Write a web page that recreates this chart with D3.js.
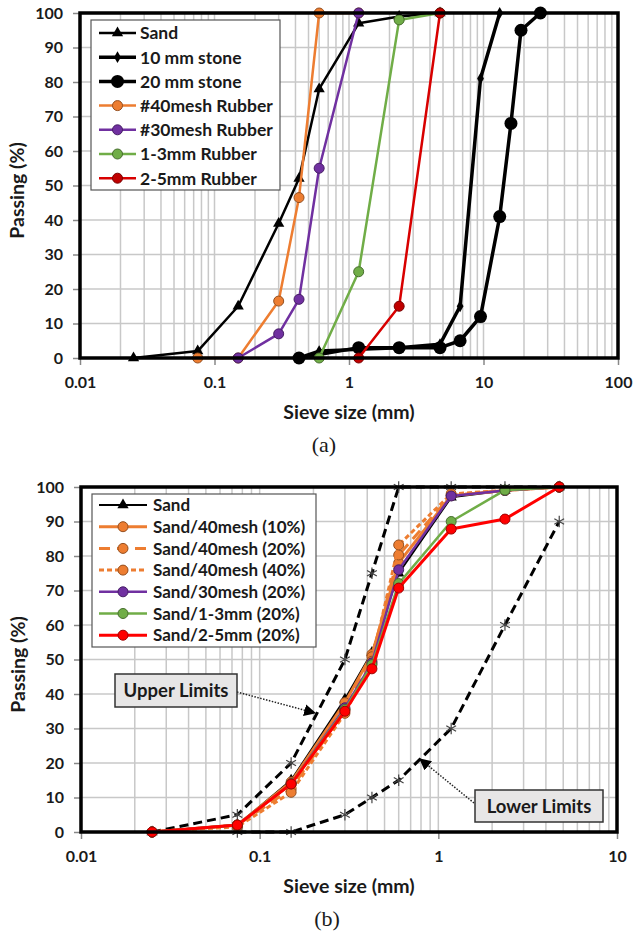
<!DOCTYPE html>
<html>
<head>
<meta charset="utf-8">
<script src="https://cdn.jsdelivr.net/npm/d3@7"></script>
<style>
  body { margin: 0; background: #fff; }
  svg { display: block; }
  text { font-family: Lato, "Open Sans", sans-serif; font-weight: 700; fill: #1a1a1a; }
</style>
</head>
<body>
<svg id="fig" width="635" height="939"></svg>
<script>
// ---------- Panel (a): gradation of sand, stone and rubber ----------
const sandSizesA   = [0.025, 0.075, 0.15, 0.3, 0.425, 0.6, 1.18, 2.36, 4.75];
const sandPassA    = [0, 2, 15, 39, 52, 78, 97, 99, 100];
const stone10Sizes = [0.425, 0.6, 1.18, 2.36, 4.75, 6.7, 9.5, 13.2];
const stone10Pass  = [0, 2, 2.5, 3, 4, 15, 81, 100];
const stone20Sizes = [0.425, 1.18, 2.36, 4.75, 6.7, 9.5, 13.2, 16, 19, 26.5];
const stone20Pass  = [0, 3, 3, 3, 5, 12, 41, 68, 95, 100];
const mesh40Sizes  = [0.075, 0.15, 0.3, 0.425, 0.6, 1.18];
const mesh40Pass   = [0, 0, 16.5, 46.5, 100, 100];
const mesh30Sizes  = [0.15, 0.3, 0.425, 0.6, 1.18];
const mesh30Pass   = [0, 7, 17, 55, 100];
const r13Sizes     = [0.6, 1.18, 2.36, 4.75];
const r13Pass      = [0, 25, 98, 100];
const r25Sizes     = [1.18, 2.36, 4.75];
const r25Pass      = [0, 15, 100];

// ---------- Panel (b): sand / rubber blends with grading limits ----------
const sieveB       = [0.025, 0.075, 0.15, 0.3, 0.425, 0.6, 1.18, 2.36, 4.75];
const sandPassB    = [0, 2, 15, 38.5, 52, 75, 97, 99, 100];
const m40p10Pass   = [0, 2, 14.5, 37.5, 51.5, 78, 97.5, 99, 100];
const m40p20Pass   = [0, 2, 12.5, 35.5, 50.8, 80.3, 97.5, 99, 100];
const m40p40Pass   = [0, 1.5, 11.5, 34.4, 49.5, 83.2, 98, 99, 100];
const m30p20Pass   = [0, 2, 14, 36, 49, 76, 97.4, 99, 100];
const r13p20Pass   = [0, 2, 14, 35.5, 48.5, 72, 90, 99.1, 100];
const r25p20Pass   = [0, 2, 13.9, 35, 47.3, 70.7, 87.8, 90.7, 100];
const upperSizes   = [0.025, 0.075, 0.15, 0.3, 0.425, 0.6, 1.18, 2.36, 4.75];
const upperPass    = [0, 5, 20, 50, 75, 100, 100, 100, 100];
const lowerSizes   = [0.075, 0.15, 0.3, 0.425, 0.6, 1.18, 2.36, 4.75];
const lowerPass    = [0, 0, 5, 10, 15, 30, 60, 90];

// ---------- Axis ticks and titles ----------
const xTicksA = [0.01, 0.1, 1, 10, 100];
const xTicksB = [0.01, 0.1, 1, 10];
const yTicks  = [0, 10, 20, 30, 40, 50, 60, 70, 80, 90, 100];
const xTitle  = "Sieve size (mm)";
const yTitle  = "Passing (%)";

const ORANGE = "#ED7D31", PURPLE = "#7030A0", GREEN = "#70AD47";

const zip = (s, p) => s.map((v, i) => ({ size: v, pass: p[i] }));

const seriesA = [
  { name: "Sand",           pts: zip(sandSizesA, sandPassA),     color: "#000", width: 2.5, marker: "triangle" },
  { name: "10 mm stone",    pts: zip(stone10Sizes, stone10Pass), color: "#000", width: 3.5, marker: "diamond" },
  { name: "20 mm stone",    pts: zip(stone20Sizes, stone20Pass), color: "#000", width: 3.5, marker: "bigcircle" },
  { name: "#40mesh Rubber", pts: zip(mesh40Sizes, mesh40Pass),   color: ORANGE, width: 2.5, marker: "circle" },
  { name: "#30mesh Rubber", pts: zip(mesh30Sizes, mesh30Pass),   color: PURPLE, width: 2.5, marker: "circle" },
  { name: "1-3mm Rubber",   pts: zip(r13Sizes, r13Pass),         color: GREEN,  width: 2.5, marker: "circle" },
  { name: "2-5mm Rubber",   pts: zip(r25Sizes, r25Pass),         color: "#D80000", fill: "#C00000", width: 2.5, marker: "circle" }
];

const limitsB = [
  { pts: zip(upperSizes, upperPass) },
  { pts: zip(lowerSizes, lowerPass) }
];

const seriesB = [
  { name: "Sand",                pts: zip(sieveB, sandPassB),  color: "#000", width: 2,   marker: "triangle" },
  { name: "Sand/40mesh (10%)",   pts: zip(sieveB, m40p10Pass), color: ORANGE, width: 3,   marker: "circle" },
  { name: "Sand/40mesh (20%)",   pts: zip(sieveB, m40p20Pass), color: ORANGE, width: 3,   marker: "circle", dash: "11,7" },
  { name: "Sand/40mesh (40%)",   pts: zip(sieveB, m40p40Pass), color: ORANGE, width: 3,   marker: "circle", dash: "5,3" },
  { name: "Sand/30mesh (20%)",   pts: zip(sieveB, m30p20Pass), color: PURPLE, width: 2.5, marker: "circle" },
  { name: "Sand/1-3mm (20%)",    pts: zip(sieveB, r13p20Pass), color: GREEN,  width: 2.5, marker: "circle" },
  { name: "Sand/2-5mm (20%)",    pts: zip(sieveB, r25p20Pass), color: "#FF0000", width: 3, marker: "circle" }
];

const svg = d3.select("#fig");

svg.append("defs").append("marker")
  .attr("id", "arrowHead")
  .attr("viewBox", "0 0 10 10").attr("refX", 9).attr("refY", 5)
  .attr("markerWidth", 8).attr("markerHeight", 8)
  .attr("markerUnits", "strokeWidth")
  .attr("orient", "auto")
  .append("path").attr("d", "M0,0 L10,5 L0,10 z").attr("fill", "#000");

function drawMarker(g, type, cx, cy, s) {
  const fill = s.fill || s.color;
  if (type === "triangle") {
    g.append("path").attr("d", d3.symbol(d3.symbolTriangle, 55)())
      .attr("transform", `translate(${cx},${cy})`).attr("fill", "#000");
  } else if (type === "diamond") {
    g.append("path").attr("d", d3.symbol(d3.symbolDiamond, 40)())
      .attr("transform", `translate(${cx},${cy})`).attr("fill", "#000");
  } else if (type === "bigcircle") {
    g.append("circle").attr("cx", cx).attr("cy", cy).attr("r", 6.5).attr("fill", "#000");
  } else if (type === "circle") {
    g.append("circle").attr("cx", cx).attr("cy", cy).attr("r", 5)
      .attr("fill", fill).attr("stroke", d3.color(fill).darker(1.3)).attr("stroke-width", 1);
  } else if (type === "asterisk") {
    g.append("path").attr("d", d3.symbol(d3.symbolAsterisk, 90)())
      .attr("transform", `translate(${cx},${cy})`)
      .attr("fill", "none").attr("stroke", "#444").attr("stroke-width", 1.2);
  }
}

function drawPanel(opt) {
  const { left, right, top, bottom, xDomain, xTicks, series, legend } = opt;
  const x = d3.scaleLog().domain(xDomain).range([left, right]);
  const y = d3.scaleLinear().domain([0, 100]).range([bottom, top]);
  const g = svg.append("g");

  // grid
  const grid = g.append("g").attr("stroke", "#c8c8c8").attr("stroke-width", 1.5);
  x.ticks().filter(v => v > xDomain[0] * 1.001 && v < xDomain[1] * 0.999).forEach(v => {
    grid.append("line").attr("x1", x(v)).attr("x2", x(v)).attr("y1", top).attr("y2", bottom);
  });
  yTicks.filter(v => v > 0 && v < 100).forEach(v => {
    grid.append("line").attr("x1", left).attr("x2", right).attr("y1", y(v)).attr("y2", y(v));
  });

  // axes
  const ay = g.append("g").attr("transform", `translate(${left},0)`)
    .call(d3.axisLeft(y).tickValues(yTicks).tickSize(7).tickPadding(10));
  const ax = g.append("g").attr("transform", `translate(0,${bottom})`)
    .call(d3.axisBottom(x).tickValues(xTicks).tickFormat(d => String(d)).tickSize(7).tickPadding(12));
  [ax, ay].forEach(a => {
    a.select(".domain").remove();
    a.selectAll(".tick line").attr("stroke", "#888").attr("stroke-width", 1.5);
    a.selectAll(".tick text").attr("font-size", 16).attr("font-family", "Lato, sans-serif")
      .attr("font-weight", 700).attr("fill", "#1a1a1a");
  });

  // axis titles
  g.append("text").attr("x", (left + right) / 2).attr("y", bottom + 61)
    .attr("text-anchor", "middle").attr("font-size", 19.5).text(xTitle);
  g.append("text").attr("transform", `translate(${left - 56},${(top + bottom) / 2 + 5}) rotate(-90)`)
    .attr("text-anchor", "middle").attr("font-size", 19.5).text(yTitle);
  g.append("text").attr("x", opt.capX).attr("y", bottom + 94)
    .attr("text-anchor", "middle").attr("font-size", 22)
    .style("font-family", "'Liberation Serif', 'DejaVu Serif', serif").style("font-weight", 400)
    .text(opt.caption);

  const line = d3.line().x(d => x(d.size)).y(d => y(d.pass));
  const plot = g.append("g");

  // grading limits
  (opt.limits || []).forEach(s => {
    plot.append("path").attr("d", line(s.pts)).attr("fill", "none")
      .attr("stroke", "#000").attr("stroke-width", 3).attr("stroke-dasharray", "9,5");
    s.pts.forEach(p => drawMarker(plot, "asterisk", x(p.size), y(p.pass), {}));
  });

  series.forEach(s => {
    plot.append("path").attr("d", line(s.pts)).attr("fill", "none")
      .attr("stroke", s.color).attr("stroke-width", s.width)
      .attr("stroke-linejoin", "round")
      .attr("stroke-dasharray", s.dash || null);
    s.pts.forEach(p => drawMarker(plot, s.marker, x(p.size), y(p.pass), s));
  });

  // frame
  g.append("rect").attr("x", left).attr("y", top).attr("width", right - left).attr("height", bottom - top)
    .attr("fill", "none").attr("stroke", "#000").attr("stroke-width", 3.5);

  // legend
  const L = legend;
  const lg = g.append("g");
  lg.append("rect").attr("x", L.x).attr("y", L.y).attr("width", L.w).attr("height", L.h)
    .attr("fill", "#fff").attr("stroke", "#555").attr("stroke-width", 1.2);
  series.forEach((s, i) => {
    const cy = L.y + L.first + i * L.step;
    lg.append("line").attr("x1", L.lx1).attr("x2", L.lx2).attr("y1", cy).attr("y2", cy)
      .attr("stroke", s.color).attr("stroke-width", s.width).attr("stroke-dasharray", s.dash || null);
    drawMarker(lg, s.marker, (L.lx1 + L.lx2) / 2, cy, s);
    lg.append("text").attr("x", L.tx).attr("y", cy).attr("dy", "0.36em")
      .attr("font-size", L.fs).text(s.name);
  });

  return { x, y, g };
}

drawPanel({
  left: 80, right: 618, top: 13, bottom: 358,
  xDomain: [0.01, 100], xTicks: xTicksA, series: seriesA,
  caption: "(a)", capX: 324,
  legend: { x: 91, y: 20, w: 189, h: 170, first: 13, step: 24.2, lx1: 99, lx2: 136, tx: 140, fs: 17.5 }
});

const pb = drawPanel({
  left: 81, right: 617, top: 487, bottom: 832,
  xDomain: [0.01, 10], xTicks: xTicksB, series: seriesB, limits: limitsB,
  caption: "(b)", capX: 327,
  legend: { x: 92, y: 494, w: 224, h: 153, first: 11, step: 21.7, lx1: 99, lx2: 147, tx: 153, fs: 17 }
});

// callouts for the grading limits
function callout(label, bx, by, bw, bh, from, to) {
  const g = pb.g.append("g");
  g.append("line").attr("x1", from[0]).attr("y1", from[1]).attr("x2", to[0]).attr("y2", to[1])
    .attr("stroke", "#222").attr("stroke-width", 1.5).attr("stroke-dasharray", "1.5,1.5")
    .attr("marker-end", "url(#arrowHead)");
  g.append("rect").attr("x", bx).attr("y", by).attr("width", bw).attr("height", bh)
    .attr("fill", "#e7e6e6").attr("stroke", "#333").attr("stroke-width", 1.5);
  g.append("text").attr("x", bx + bw / 2).attr("y", by + bh / 2).attr("dy", "0.36em")
    .attr("text-anchor", "middle").attr("font-size", 18.5).text(label);
}
callout("Upper Limits", 115, 674, 122, 33, [237, 692], [315, 713]);
callout("Lower Limits", 475, 790, 128, 32, [474, 803], [420, 759]);
</script>
</body>
</html>
